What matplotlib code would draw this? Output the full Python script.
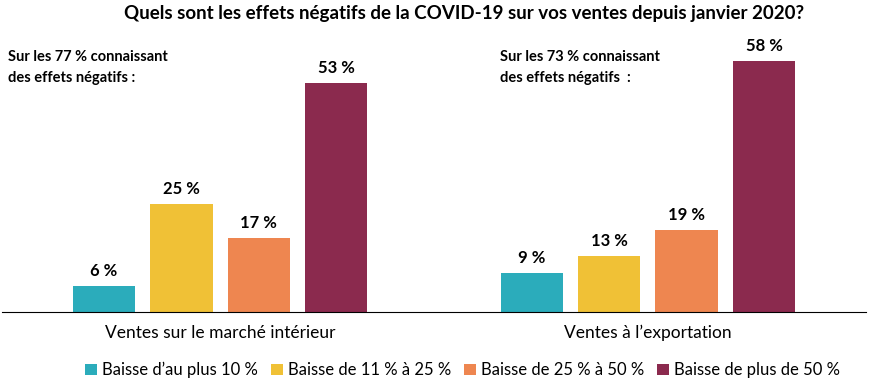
import matplotlib.pyplot as plt
import numpy as np

plt.rcParams['font.family'] = ['Lato', 'DejaVu Sans']

categories = ["Ventes sur le marché intérieur", "Ventes à l\u2019exportation"]
series_names = ["Baisse d\u2019au plus 10 %", "Baisse de 11 % à 25 %",
                "Baisse de 25 % à 50 %", "Baisse de plus de 50 %"]
interieur = [6, 25, 17, 53]
exportation = [9, 13, 19, 58]
notes = ["Sur les 77 % connaissant\ndes effets négatifs :",
         "Sur les 73 % connaissant\ndes effets négatifs  :"]
colors = ["#2BACBB", "#F0C136", "#EE8650", "#8B2A4E"]

values = np.array([interieur, exportation])

fig = plt.figure(figsize=(8.71, 3.87), dpi=100)
ax = fig.add_axes([2 / 871, 75 / 387, 864 / 871, 303 / 387])

x = np.arange(len(categories))
width = 0.146
step = 0.181
for i, name in enumerate(series_names):
    pos = x + (i - 1.5) * step
    bars = ax.bar(pos, values[:, i], width, color=colors[i], label=name)
    for b, v in zip(bars, values[:, i]):
        ax.text(b.get_x() + b.get_width() / 2, v + 1.6, f"{v} %",
                ha="center", va="bottom", fontsize=12, fontweight="bold")

ax.set_xlim(-0.51, 1.51)
ax.set_ylim(0, 70)
ax.set_xticks(x)
ax.set_xticklabels(categories, fontsize=12.5)
ax.tick_params(axis="x", length=0, pad=9)
ax.set_yticks([])
for s in ["top", "right", "left"]:
    ax.spines[s].set_visible(False)
ax.spines["bottom"].set_color("black")

# notes above each group
note_x = [8, 500]
for nx, txt in zip(note_x, notes):
    fig.text(nx / 871, 1 - 50 / 387, txt, ha="left", va="top",
             fontsize=10.5, fontweight="bold", linespacing=1.6)

fig.text(0.533, 1 - 5 / 387,
         "Quels sont les effets négatifs de la COVID-19 sur vos ventes depuis janvier 2020?",
         ha="center", va="top", fontsize=13.5, fontweight="bold")

fig.legend(loc="center", bbox_to_anchor=(0.531, 1 - 370 / 387), ncol=4,
           frameon=False, fontsize=12, handlelength=0.7, handleheight=0.7,
           handletextpad=0.3, columnspacing=0.8)

fig.savefig("out.png", dpi=100)
